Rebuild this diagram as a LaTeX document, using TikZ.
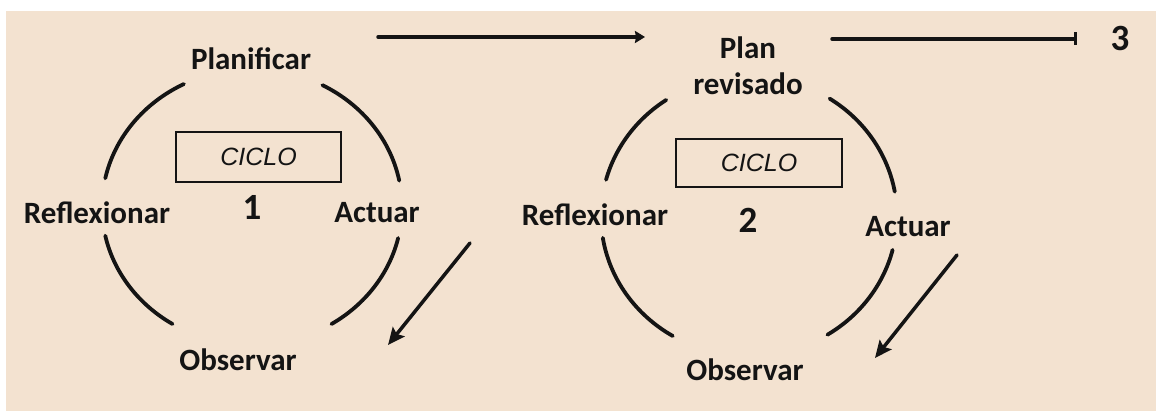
\documentclass[tikz,border=0pt]{standalone}
\usepackage{fontspec}
\setmainfont{Carlito}
\newfontfamily\arialf{Liberation Sans}
\usetikzlibrary{arrows.meta}
\definecolor{beige}{RGB}{243,226,208}
\definecolor{ink}{RGB}{20,20,20}
\tikzset{
  lbl/.style={font=\fontsize{31}{36}\selectfont\bfseries, inner sep=0pt, align=center, text=ink},
  num/.style={font=\fontsize{37}{40}\selectfont\bfseries, inner sep=0pt, text=ink},
  ciclobox/.style={draw=ink, line width=1.8pt, inner sep=0pt, text=ink, font=\arialf\itshape\fontsize{25}{28}\selectfont},
  arcline/.style={draw=ink, line width=3.8pt, line cap=round},
  flowarrow/.style={draw=ink, fill=ink, line width=3.5pt, line cap=round},
}
\begin{document}
\begin{tikzpicture}[x=1pt,y=1pt]
\useasboundingbox (0,0) rectangle (1156,411);
\fill[white] (0,0) rectangle (1156,411);
\fill[beige] (6,0) rectangle (1156,400);

% ---- Cycle 1 ----
\coordinate (c1) at (252,204);
\node[lbl] (plan1) at (251,352) {Planificar};
\node[lbl] (refl1) at (97,198) {Reflexionar};
\node[lbl] (act1) at (377,198) {Actuar};
\node[lbl] (obs1) at (238,51) {Observar};
\node[ciclobox, minimum width=165pt, minimum height=50pt] (box1) at (258.5,254) {CICLO};
\node[num] (num1) at (252,204) {1};
\draw[arcline] (c1) ++(117:150pt and 138pt) arc[start angle=117, end angle=168, x radius=150pt, y radius=138pt];
\draw[arcline] (c1) ++(11:150pt and 138pt) arc[start angle=11, end angle=62, x radius=150pt, y radius=138pt];
\draw[arcline] (c1) ++(192:150pt and 138pt) arc[start angle=192, end angle=238, x radius=150pt, y radius=138pt];
\draw[arcline] (c1) ++(-58:150pt and 138pt) arc[start angle=-58, end angle=-13, x radius=150pt, y radius=138pt];
\coordinate (d1s) at (470,168);
\coordinate (d1e) at (388,66);
\draw[flowarrow, -{Stealth[length=17pt,width=15pt,inset=3pt]}] (d1s) -- (d1e);

% ---- top connectors ----
\node[lbl] (plan2) at (748,345.5) {Plan\\revisado};
\node[num] (three) at (1120,372) {3};
\coordinate (t1s) at (378,374);
\coordinate (t1e) at (645,374);
\draw[flowarrow, -{Stealth[length=10pt,width=12pt,inset=1pt]}] (t1s) -- (t1e);
\coordinate (t2s) at (832,372);
\coordinate (t2e) at (1077,372);
\draw[flowarrow, -{Bar[width=13pt,line width=3pt]}] (t2s) -- (t2e);

% ---- Cycle 2 ----
\coordinate (c2) at (749,195);
\node[lbl] (refl2) at (595,196) {Reflexionar};
\node[lbl] (act2) at (908,184) {Actuar};
\node[lbl] (obs2) at (745,41) {Observar};
\node[ciclobox, minimum width=166pt, minimum height=48pt] (box2) at (759,248) {CICLO};
\node[num] (num2) at (748,191) {2};
\draw[arcline] (c2) ++(124:148pt and 140pt) arc[start angle=124, end angle=165, x radius=148pt, y radius=140pt];
\draw[arcline] (c2) ++(10:148pt and 140pt) arc[start angle=10, end angle=57, x radius=148pt, y radius=140pt];
\draw[arcline] (c2) ++(189:148pt and 140pt) arc[start angle=189, end angle=239, x radius=148pt, y radius=140pt];
\draw[arcline] (c2) ++(-58:148pt and 140pt) arc[start angle=-58, end angle=-14, x radius=148pt, y radius=140pt];
\coordinate (d2s) at (957,156);
\coordinate (d2e) at (875,53);
\draw[flowarrow, -{Stealth[length=17pt,width=15pt,inset=3pt]}] (d2s) -- (d2e);
\end{tikzpicture}
\end{document}
